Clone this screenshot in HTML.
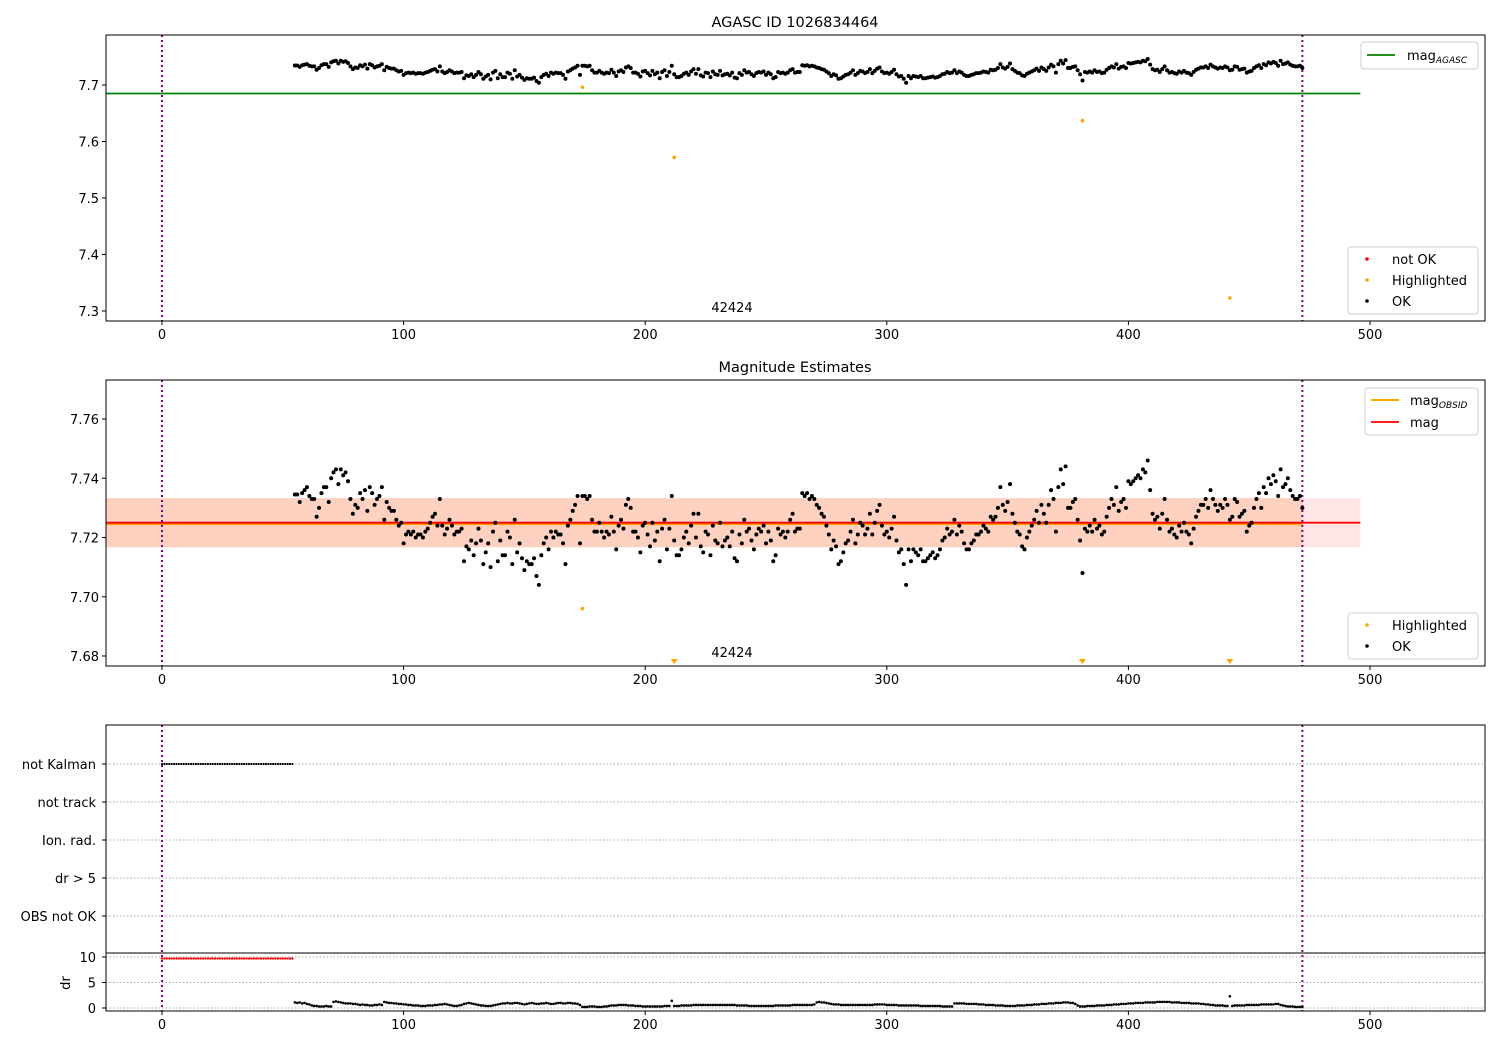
<!DOCTYPE html>
<html><head><meta charset="utf-8"><style>
body{margin:0;background:#fff}
svg{display:block;font-family:"DejaVu Sans","Liberation Sans",sans-serif}
</style></head><body>
<svg id="c" width="1500" height="1050" xmlns="http://www.w3.org/2000/svg"></svg>
<script>
const xStart = 55;
const magMilli = [34.5,34.5,32,35,36,37,34,33,33,27,
30,35,37,37,32,40,42,43,38,43,
41,42,39,33,28,31,30,35,33,36,
29,37,35,31,33,34,37,26,32,30,
29,29,26,24,25,18,21,22,21,22,
20,21,21,20,22,23,25,27,28,24,
33,24,21,23,26,24,21,22,22,23,
12,17,16,19,14,18,23,19,11,15,
18,10,22,25,12,19,14,14,22,20,
11,26,15,18,13,9,12,11,11,13,
7,4,14,18,20,16,22,20,22,21,
21,18,11,24,26,29,31,34,18,34,
34,33,34,26,22,22,25,22,20,22,
21,27,22,16,24,26,23,31,33,30,
22,22,20,15,24,25,21,17,25,19,
22,12,23,26,16,23,34,19,14,14,
16,20,22,18,24,28,20,28,17,15,
22,21,14,24,19,18,25,17,19,20,
17,22,13,12,21,18,26,22,23,19,
16,21,23,22,24,18,22,19,12,14,
23,21,22,20,22,26,28,22,23,23,
35,34,35,33,34,33,31,30,28,27,
24,21,16,19,17,11,12,15,18,19,
22,26,18,21,25,24,21,23,28,21,
25,29,31,24,21,22,20,23,27,19,
15,16,11,4,16,12,16,15,14,16,
12,12,13,14,15,13,14,16,19,20,
23,21,22,26,21,24,22,18,16,16,
18,19,21,21,22,24,23,22,27,26,
27,30,37,31,29,32,38,28,25,22,
21,17,16,20,22,24,26,29,25,31,
28,25,31,36,33,22,37,43,38,44,
30,30,32,33,26,19,8,23,22,24,
22,26,23,24,21,22,27,30,33,31,
37,29,32,33,30,39,38,39,40,41,
40,43,42,46,36,28,26,27,23,28,
33,26,22,23,21,20,24,22,25,22,
21,18,23,27,29,31,31,33,30,36,
33,31,29,31,30,33,31,26,27,33,
32,27,28,29,22,24,25,30,33,35,
30,37,35,40,38,41,39,34,43,37,
38,40,36,34,33,33,34,30];
const drTenths = [11,10,11,9,10,8,7,5,4,4,
3,3,3,4,3,3,12,13,12,11,
10,9,9,9,8,8,7,6,7,6,
6,5,5,6,6,7,6,12,11,10,
10,9,9,8,8,7,7,6,6,5,
5,5,4,4,4,5,5,5,6,6,
7,7,8,7,6,5,4,4,5,6,
8,9,10,9,8,7,6,5,5,4,
4,4,5,6,7,8,9,9,10,9,
9,10,10,9,8,7,8,9,10,9,
8,8,9,9,10,9,8,8,9,10,
10,9,9,10,10,9,9,8,6,2,
2,2,3,3,3,2,2,2,3,3,
4,5,5,5,6,6,6,6,5,5,
5,4,4,4,3,3,3,3,3,3,
3,3,3,4,4,4,14,4,4,4,
5,5,5,5,5,6,6,6,6,6,
6,6,6,6,6,6,6,6,6,6,
6,6,6,5,5,5,5,5,4,4,
4,4,4,4,4,4,4,4,4,5,
5,5,5,5,5,5,6,6,6,6,
6,6,6,6,6,7,11,12,11,11,
10,9,8,7,7,7,6,6,6,6,
6,6,6,6,6,6,6,6,6,6,
7,7,7,7,7,6,6,6,6,6,
5,5,5,5,5,5,5,5,5,4,
4,4,4,4,4,4,4,4,3,3,
3,3,3,9,9,9,9,9,8,8,
8,8,8,7,7,7,6,6,6,6,
5,5,5,5,4,4,4,4,4,5,
5,5,5,6,6,6,7,7,7,8,
8,8,9,9,9,10,10,10,11,11,
11,10,10,8,5,3,3,3,4,4,
4,4,5,5,5,5,6,6,6,7,
7,7,8,8,8,9,9,9,10,10,
10,10,11,11,11,11,11,12,12,12,
12,12,12,11,11,11,11,10,10,10,
10,9,9,9,9,8,8,7,7,6,
6,5,5,5,5,4,4,23,4,5,
5,5,5,5,6,6,6,6,6,6,
7,7,7,7,7,7,8,8,6,5,
4,3,3,3,2,2,2,2];
const hiX = [174,212,381,442];
const hiMag = [7.696,7.572,7.637,7.323];
const notKalmanEnd = 54;
const notKalmanDr = 9.7;
const magAgasc = 7.685;
const magObs = 7.7245;
const magMean = 7.725;
const magStd = 0.0083;
const obsStart = 0, obsEnd = 472, lineEnd = 496;
const xTicks = [0,100,200,300,400,500];
const y1Ticks = [7.3,7.4,7.5,7.6,7.7];
const y2Ticks = [7.68,7.70,7.72,7.74,7.76];
const flagLabels = ["not Kalman","not track","Ion. rad.","dr > 5","OBS not OK"];
const drTicks = [0,5,10];

const svg = document.getElementById('c');
const NS = 'http://www.w3.org/2000/svg';
function mk(tag, a, parent){const e=document.createElementNS(NS,tag);for(const k in a)e.setAttribute(k,a[k]);(parent||svg).appendChild(e);return e;}
const L=106,R=1485;
const X = v => 162 + v*(1370-162)/500;
const Y1 = v => 85 + (7.7-v)*(311-85)/0.4;
function y2(v){return 656 - (v-7.68)*(656-419)/0.08;}
const Yd = v => 1008 - v*(1008-957)/10;
const flagY = i => 764 + i*38;
const mags = magMilli.map(m=>7.7+m/1000);

function text(str,x,y,opts,name){const t=mk('text',Object.assign({x:x,y:y,'font-size':13,fill:'#000'},opts||{}));t.textContent=str;


return t;}
function frame(top,bot,name){const r=mk('rect',{x:L,y:top,width:R-L,height:bot-top,fill:'none',stroke:'#000','stroke-width':1});

}
function xaxis(bot,name){const g=mk('g',{});


 xTicks.forEach(t=>{mk('line',{x1:X(t),x2:X(t),y1:bot,y2:bot+4,stroke:'#000'},g);const tt=mk('text',{x:X(t),y:bot+18,'font-size':13,'text-anchor':'middle'},g);tt.textContent=t;});}
function vlines(top,bot){[obsStart,obsEnd].forEach(v=>{const l=mk('line',{x1:X(v),x2:X(v),y1:top,y2:bot,stroke:'purple','stroke-width':2,'stroke-dasharray':'2,3'});

});}
function dot(x,y,r,c,g){mk('circle',{cx:x,cy:y,r:r,fill:c},g);}
function legendBox(x,y,w,h,name){const g=mk('g',{});


mk('rect',{x:x,y:y,width:w,height:h,rx:3,fill:'#fff','fill-opacity':0.85,stroke:'#ccc'},g);return g;}

// panel 1
{
 const top=35,bot=321;
 const cp=mk('clipPath',{id:'cp1'});mk('rect',{x:L,y:top,width:R-L,height:bot-top},cp);
 text('AGASC ID 1026834464',795,27,{'font-size':14.5,'text-anchor':'middle'},'top-panel-title');
 const al=mk('line',{x1:L,x2:X(lineEnd),y1:Y1(magAgasc),y2:Y1(magAgasc),stroke:'green','stroke-width':1.8});
 
 
 vlines(top,bot);
 const g=mk('g',{'clip-path':'url(#cp1)'});
 
 
 mags.forEach((m,i)=>dot(X(xStart+i),Y1(m),2,'#000',g));
 const gh=mk('g',{'clip-path':'url(#cp1)'});
 
 
 hiX.forEach((x,i)=>dot(X(x),Y1(hiMag[i]),1.8,'orange',gh));
 text('42424',732,312,{'text-anchor':'middle'},'top-obsid-label');
 frame(top,bot,'top-panel-frame');
 const ya=mk('g',{});
 
 
 y1Ticks.forEach(t=>{mk('line',{x1:L-4,x2:L,y1:Y1(t),y2:Y1(t),stroke:'#000'},ya);const tt=mk('text',{x:L-7,y:Y1(t)+5,'font-size':13,'text-anchor':'end'},ya);tt.textContent=t.toFixed(1);});
 xaxis(bot,'top-x-axis');
 let lg=legendBox(1361,42,117,27,'top-legend-mag-agasc');
 mk('line',{x1:1367,x2:1395,y1:55,y2:55,stroke:'green','stroke-width':1.8},lg);
 const t1=mk('text',{x:1407,y:60,'font-size':13},lg);t1.innerHTML='mag<tspan font-size="9" dy="3" font-style="italic">AGASC</tspan>';
 lg=legendBox(1348,247,130,67,'top-legend-status');
 [['not OK','red'],['Highlighted','orange'],['OK','#000']].forEach((e,i)=>{dot(1367,259+i*21,1.8,e[1],lg);const t=mk('text',{x:1392,y:264+i*21,'font-size':13},lg);t.textContent=e[0];});
}
// panel 2
{
 const top=380,bot=666;
 const cp=mk('clipPath',{id:'cp2'});mk('rect',{x:L,y:top,width:R-L,height:bot-top},cp);
 text('Magnitude Estimates',795,372,{'font-size':14.5,'text-anchor':'middle'},'middle-panel-title');
 const b1=mk('rect',{x:L,y:y2(magMean+magStd),width:X(lineEnd)-L,height:y2(magMean-magStd)-y2(magMean+magStd),fill:'red','fill-opacity':0.1});
 
 
 const b2=mk('rect',{x:L,y:y2(magMean+magStd),width:X(obsEnd)-L,height:y2(magMean-magStd)-y2(magMean+magStd),fill:'#ff8c40','fill-opacity':0.22});
 
 
 const lo=mk('line',{x1:L,x2:X(obsEnd),y1:y2(magObs),y2:y2(magObs),stroke:'orange','stroke-width':2});
 
 
 const lm=mk('line',{x1:L,x2:X(lineEnd),y1:y2(magMean),y2:y2(magMean),stroke:'red','stroke-width':1.8});
 
 
 vlines(top,bot);
 const g=mk('g',{'clip-path':'url(#cp2)'});
 
 
 mags.forEach((m,i)=>dot(X(xStart+i),y2(m),2,'#000',g));
 const gh=mk('g',{});
 
 
 hiX.forEach((x,i)=>{const v=hiMag[i];if(v>=7.6766){dot(X(x),y2(v),1.8,'orange',gh);}else{mk('path',{d:`M${X(x)-3.5},${bot-7}L${X(x)+3.5},${bot-7}L${X(x)},${bot-2}Z`,fill:'orange'},gh);}});
 text('42424',732,657,{'text-anchor':'middle'},'middle-obsid-label');
 frame(top,bot,'middle-panel-frame');
 const ya=mk('g',{});
 
 
 y2Ticks.forEach(t=>{mk('line',{x1:L-4,x2:L,y1:y2(t),y2:y2(t),stroke:'#000'},ya);const tt=mk('text',{x:L-7,y:y2(t)+5,'font-size':13,'text-anchor':'end'},ya);tt.textContent=t.toFixed(2);});
 xaxis(bot,'middle-x-axis');
 let lg=legendBox(1365,388,113,47,'middle-legend-lines');
 mk('line',{x1:1371,x2:1399,y1:400,y2:400,stroke:'orange','stroke-width':2},lg);
 const t1=mk('text',{x:1410,y:405,'font-size':13},lg);t1.innerHTML='mag<tspan font-size="9" dy="3" font-style="italic">OBSID</tspan>';
 mk('line',{x1:1371,x2:1399,y1:422,y2:422,stroke:'red','stroke-width':1.8},lg);
 const t2=mk('text',{x:1410,y:427,'font-size':13},lg);t2.textContent='mag';
 lg=legendBox(1348,613,130,46,'middle-legend-status');
 [['Highlighted','orange'],['OK','#000']].forEach((e,i)=>{dot(1367,625+i*21,1.8,e[1],lg);const t=mk('text',{x:1392,y:630+i*21,'font-size':13},lg);t.textContent=e[0];});
}
// panel 3
{
 const top=725,mid=953,bot=1011;
 const gr=mk('g',{});
 
 
 flagLabels.forEach((f,i)=>{mk('line',{x1:L,x2:R,y1:flagY(i),y2:flagY(i),stroke:'#aaa','stroke-dasharray':'1.5,2'},gr);const t=mk('text',{x:L-10,y:flagY(i)+5,'font-size':13,'text-anchor':'end'},gr);t.textContent=f;mk('line',{x1:L-4,x2:L,y1:flagY(i),y2:flagY(i),stroke:'#000'},gr);});
 drTicks.forEach(t=>{mk('line',{x1:L,x2:R,y1:Yd(t),y2:Yd(t),stroke:'#aaa','stroke-dasharray':'1.5,2'},gr);});
 vlines(top,bot);
 const gk=mk('g',{});
 
 
 for(let i=0;i<=notKalmanEnd;i++)dot(X(i),flagY(0),1.1,'#000',gk);
 const gd=mk('g',{});
 
 
 for(let i=0;i<=notKalmanEnd;i++)dot(X(i),Yd(notKalmanDr),1.2,'red',gd);
 const go=mk('g',{});
 
 
 drTenths.forEach((d,i)=>dot(X(xStart+i),Yd(d/10),1.3,'#000',go));
 frame(top,bot,'flags-panel-frame');
 const sp=mk('line',{x1:L,x2:R,y1:mid,y2:mid,stroke:'#000'});
 
 
 const ya=mk('g',{});
 
 
 drTicks.forEach(t=>{mk('line',{x1:L-4,x2:L,y1:Yd(t),y2:Yd(t),stroke:'#000'},ya);const tt=mk('text',{x:L-10,y:Yd(t)+5,'font-size':13,'text-anchor':'end'},ya);tt.textContent=t;});
 const dl=mk('text',{x:70,y:983,'font-size':13,'text-anchor':'middle',transform:'rotate(-90 70 983)'},ya);dl.textContent='dr';
 xaxis(bot,'bottom-x-axis');
}
</script>
</body></html>
